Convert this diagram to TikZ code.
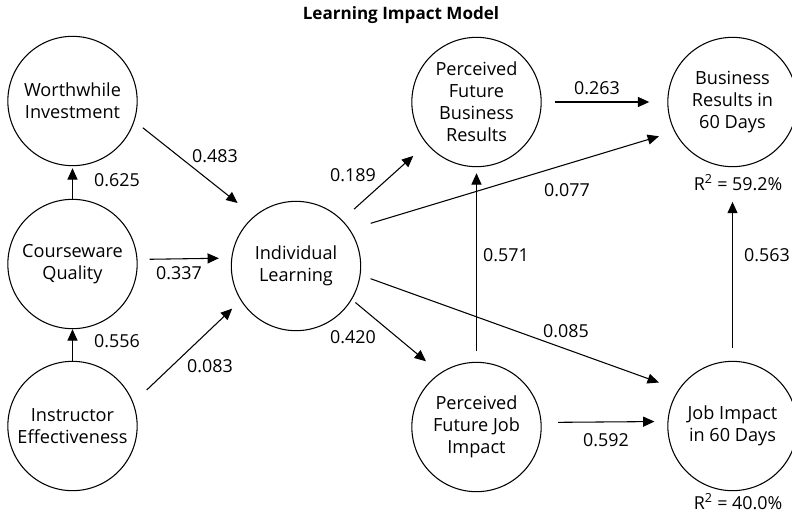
\documentclass[tikz,border=0pt]{standalone}
\usepackage{fontspec}
\setmainfont{Open Sans}
\usetikzlibrary{arrows.meta}
\begin{document}
\begin{tikzpicture}[x=0.75pt,y=-0.75pt,
  latent/.style={draw, circle, line width=0.8pt, minimum size=97pt, inner sep=0pt, align=center,
    font=\fontsize{13.6}{16.5}\selectfont},
  arr/.style={line width=0.8pt, -{Triangle[length=8.5pt,width=7.5pt]}},
  coef/.style={font=\fontsize{13.4}{16}\selectfont, inner sep=0pt},
]
\useasboundingbox (0,0) rectangle (792,515);
\clip (0,0) rectangle (792,515);

\node[font=\bfseries\fontsize{12.8}{15}\selectfont] (title) at (401,15) {Learning Impact Model};

% nodes
\node[latent] (wi) at (72.5,101) {Worthwhile\\Investment};
\node[latent] (cq) at (72.5,264) {Courseware\\Quality};
\node[latent] (ie) at (72.5,426) {Instructor\\Effectiveness};
\node[latent] (il) at (296,266) {\raisebox{5pt}{\begin{tabular}{@{}c@{}}Individual\\Learning\end{tabular}}};
\node[latent] (pb) at (476.5,102) {Perceived\\Future\\Business\\Results};
\node[latent] (br) at (732.5,102) {Business\\Results in\\60 Days};
\node[latent] (pj) at (476.5,427) {Perceived\\Future Job\\Impact};
\node[latent] (ji) at (732.5,426) {\raisebox{3pt}{\begin{tabular}{@{}c@{}}Job Impact\\in 60 Days\end{tabular}}};

% R squared
\node[coef] (r1) at (738,183) {R\textsuperscript{2} = 59.2\%};
\node[coef] (r2) at (738,502) {R\textsuperscript{2} = 40.0\%};

% connectors
\draw[arr, shorten >=1.5pt] (cq) -- (wi);
\draw[arr] (ie) -- (cq);
\draw[arr, shorten <=8pt, shorten >=15.75pt] (wi.-18) -- (il.130);
\draw[arr, shorten <=9pt, shorten >=9.3pt] (cq.4.4) -- (il.173.7);
\draw[arr, shorten <=13.8pt, shorten >=8.8pt] (ie.21) -- (il.212);
\draw[arr, shorten <=12pt, shorten >=13.4pt] (il.45) -- (pb.220.3);
\draw[arr, shorten <=16.2pt, shorten >=12.1pt] (il.34.8) -- (br.207.6);
\draw[arr, shorten <=3.4pt, shorten >=13.7pt] (il.-31.5) -- (pj.124.5);
\draw[arr, shorten <=8pt, shorten >=15.6pt] (il.-8.7) -- (ji.146.7);
\draw[arr, shorten <=9.75pt, shorten >=13.5pt] (pb) -- (br);
\draw[arr, shorten <=12.4pt, shorten >=9.75pt] (pj.4.5) -- (ji.176.2);
\draw[arr, shorten <=8.25pt, shorten >=4.5pt] (pj) -- (pb);
\draw[arr, shorten <=9.75pt, shorten >=26pt] (ji) -- (br);

% coefficients
\node[coef] (c1) at (117,180) {0.625};
\node[coef] (c2) at (117,341) {0.556};
\node[coef] (c3) at (215,156) {0.483};
\node[coef] (c4) at (179,273) {0.337};
\node[coef] (c5) at (210,366) {0.083};
\node[coef] (c6) at (353,175) {0.189};
\node[coef] (c7) at (353,337) {0.420};
\node[coef] (c8) at (597,88) {0.263};
\node[coef] (c9) at (567,190) {0.077};
\node[coef] (c10) at (506,255) {0.571};
\node[coef] (c11) at (767,255) {0.563};
\node[coef] (c12) at (566,331) {0.085};
\node[coef] (c13) at (606,440) {0.592};
\end{tikzpicture}
\end{document}
